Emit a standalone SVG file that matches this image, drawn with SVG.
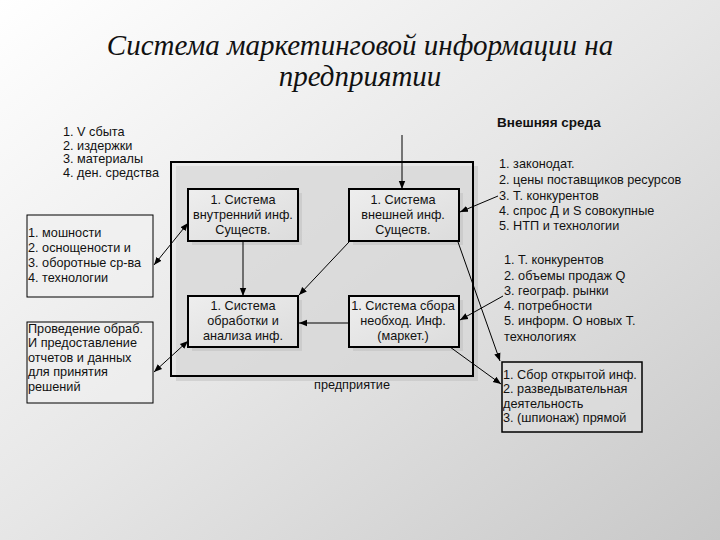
<svg xmlns="http://www.w3.org/2000/svg" width="720" height="540" viewBox="0 0 720 540">
<defs>
<linearGradient id="bg" x1="0" y1="0" x2="1" y2="1">
<stop offset="0" stop-color="#ffffff"/>
<stop offset="0.5" stop-color="#e6e6e6"/>
<stop offset="1" stop-color="#c8c8c8"/>
</linearGradient>
<linearGradient id="boxg" x1="0" y1="0" x2="1" y2="1">
<stop offset="0" stop-color="#eeeeee"/>
<stop offset="1" stop-color="#dcdcdc"/>
</linearGradient>
<marker id="ah" viewBox="0 0 10 10" refX="10" refY="5" markerWidth="8" markerHeight="8" markerUnits="userSpaceOnUse" orient="auto-start-reverse">
<path d="M0,1 L10,5 L0,9 z" fill="#000"/>
</marker>
<style>
.t{font-family:"Liberation Sans",Arial,sans-serif;font-size:12.7px;fill:#111}
.c{text-anchor:middle}
.box{fill:url(#boxg);stroke:#000;stroke-width:2}
.sh{fill:#bdbdbd;opacity:0.5}
.ln{fill:none;stroke:#000;stroke-width:1}
.ttl{font-family:"Liberation Serif","Times New Roman",serif;font-style:italic;font-size:29px;fill:#111;text-anchor:middle}
</style>
</defs>
<rect x="0" y="0" width="720" height="540" fill="url(#bg)"/>
<g id="title">
<text class="ttl" x="360" y="55">Система маркетинговой информации на</text>
<text class="ttl" x="360" y="86">предприятии</text>
</g>
<g id="enterprise">
<rect class="sh" x="176" y="166" width="302" height="215"/>
<rect x="171" y="162" width="302" height="214" fill="#e4e4e4" fill-opacity="0.5" stroke="#000" stroke-width="2"/>
<text class="t c" x="352" y="389">предприятие</text>
</g>
<g id="internal">
<rect class="sh" x="192" y="193" width="110" height="52"/>
<rect class="box" x="188" y="189" width="110" height="52"/>
<text class="t c" x="243" y="204">1. Система</text>
<text class="t c" x="243" y="219">внутренний инф.</text>
<text class="t c" x="243" y="234">Существ.</text>
</g>
<g id="external">
<rect class="sh" x="353" y="193" width="110" height="52"/>
<rect class="box" x="349" y="189" width="110" height="52"/>
<text class="t c" x="403" y="204">1. Система</text>
<text class="t c" x="403" y="219">внешней инф.</text>
<text class="t c" x="403" y="234">Существ.</text>
</g>
<g id="processing">
<rect class="sh" x="192" y="300" width="110" height="51"/>
<rect class="box" x="188" y="296" width="110" height="51"/>
<text class="t c" x="243" y="310">1. Система</text>
<text class="t c" x="243" y="325">обработки и</text>
<text class="t c" x="243" y="340">анализа инф.</text>
</g>
<g id="collection">
<rect class="sh" x="353" y="300" width="110" height="51"/>
<rect class="box" x="349" y="296" width="110" height="51"/>
<text class="t c" x="403" y="310">1. Система сбора</text>
<text class="t c" x="403" y="325">необход. Инф.</text>
<text class="t c" x="403" y="340">(маркет.)</text>
</g>
<g id="sales-list">
<text class="t" x="63" y="136">1. V сбыта</text>
<text class="t" x="63" y="150">2. издержки</text>
<text class="t" x="63" y="163">3. материалы</text>
<text class="t" x="63" y="177">4. ден. средства</text>
</g>
<g id="capacity">
<rect x="27" y="215" width="126" height="82" fill="#f0f0f0" fill-opacity="0.6" stroke="#000" stroke-width="1"/>
<text class="t" x="28" y="237">1. мошности</text>
<text class="t" x="28" y="252">2. оснощености и</text>
<text class="t" x="28" y="267">3. оборотные ср-ва</text>
<text class="t" x="28" y="282">4. технологии</text>
</g>
<g id="reports">
<rect x="27" y="322" width="126" height="81" fill="#f0f0f0" fill-opacity="0.6" stroke="#000" stroke-width="1"/>
<text class="t" x="28" y="333">Проведение обраб.</text>
<text class="t" x="28" y="347">И предоставление</text>
<text class="t" x="28" y="362">отчетов и данных</text>
<text class="t" x="28" y="376">для принятия</text>
<text class="t" x="28" y="391">решений</text>
</g>
<g id="environment">
<text class="t" x="497" y="127" style="font-weight:bold;font-size:13.5px">Внешняя среда</text>
<text class="t" x="499" y="168">1. законодат.</text>
<text class="t" x="499" y="184">2. цены поставщиков ресурсов</text>
<text class="t" x="499" y="200">3. Т. конкурентов</text>
<text class="t" x="499" y="215">4. спрос Д и S совокупные</text>
<text class="t" x="499" y="230">5. НТП и технологии</text>
</g>
<g id="competitors">
<text class="t" x="504" y="264">1. Т. конкурентов</text>
<text class="t" x="504" y="280">2. объемы продаж Q</text>
<text class="t" x="504" y="295">3. географ. рынки</text>
<text class="t" x="504" y="310">4. потребности</text>
<text class="t" x="504" y="325">5. информ. О новых Т.</text>
<text class="t" x="504" y="341">технологиях</text>
</g>
<g id="open-info">
<rect x="502" y="362" width="140" height="70" fill="#e0e0e0" fill-opacity="0.6" stroke="#000" stroke-width="1.5"/>
<text class="t" x="503" y="379">1. Сбор открытой инф.</text>
<text class="t" x="503" y="393">2. разведывательная</text>
<text class="t" x="503" y="408">деятельность</text>
<text class="t" x="503" y="422">3. (шпионаж) прямой</text>
</g>
<g id="connectors">
<line class="ln" x1="402" y1="135" x2="402" y2="189" marker-end="url(#ah)"/>
<line class="ln" x1="498" y1="196" x2="460" y2="212" marker-end="url(#ah)"/>
<line class="ln" x1="243" y1="241" x2="243" y2="296" marker-end="url(#ah)"/>
<line class="ln" x1="349" y1="242" x2="299" y2="295" marker-end="url(#ah)"/>
<line class="ln" x1="349" y1="323" x2="299" y2="323" marker-end="url(#ah)"/>
<line class="ln" x1="458" y1="242" x2="500" y2="361" marker-end="url(#ah)"/>
<line class="ln" x1="503" y1="296" x2="460" y2="320" marker-end="url(#ah)"/>
<line class="ln" x1="450" y1="347" x2="501" y2="384" marker-end="url(#ah)"/>
<line class="ln" x1="154" y1="265" x2="188" y2="223" marker-start="url(#ah)" marker-end="url(#ah)"/>
<line class="ln" x1="154" y1="372" x2="188" y2="341" marker-start="url(#ah)" marker-end="url(#ah)"/>
</g>
</svg>
